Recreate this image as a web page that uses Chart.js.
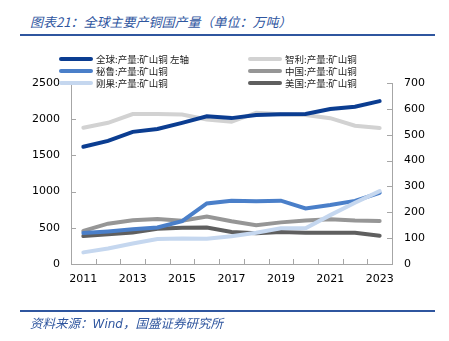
<!DOCTYPE html>
<html>
<head>
<meta charset="utf-8">
<script src="https://cdn.jsdelivr.net/npm/chart.js@4.4.0/dist/chart.umd.min.js"></script>
<style>
  html, body { margin: 0; padding: 0; background: #fff; }
  #wrap { position: relative; width: 449px; height: 341px; overflow: hidden; }
  #c { position: absolute; left: 0; top: 0; }
  .title { position: absolute; left: 30px; top: 12px; font: italic 13px "Noto Sans CJK SC", sans-serif; color: #2F569F; white-space: nowrap; }
  .rule { position: absolute; left: 20px; width: 415px; height: 2px; background: #2F569F; }
  .source { position: absolute; left: 30px; top: 313px; font: italic 12.5px "Noto Sans CJK SC", sans-serif; color: #2F569F; white-space: nowrap; }
  .source .en { font-family: "DejaVu Sans", sans-serif; font-size: 12px; }
  .leg { position: absolute; display: flex; align-items: center; font: 9.5px "Noto Sans CJK SC", sans-serif; color: #222; white-space: nowrap; height: 12px; }
  .leg .sw { width: 34px; height: 4px; border-radius: 2px; margin-right: 3px; }
</style>
</head>
<body>
<div id="wrap">
  <div class="title">图表21：全球主要产铜国产量（单位：万吨）</div>
  <div class="rule" style="top:34px"></div>
  <canvas id="c" width="449" height="341"></canvas>
  <div id="legend"></div>
  <div class="rule" style="top:310px"></div>
  <div class="source">资料来源：<span class="en">Wind</span>，国盛证券研究所</div>
</div>
<script>
// ---- data (万吨) ----
const years = ['2011','2012','2013','2014','2015','2016','2017','2018','2019','2020','2021','2022','2023'];
const globalMine = [1620, 1700, 1825, 1865, 1950, 2040, 2015, 2058, 2070, 2072, 2140, 2172, 2250];
const chileMine  = [527, 546, 580, 580, 578, 559, 550, 585, 579, 576, 564, 535, 526];
const peruMine   = [120, 126, 134, 141, 166, 234, 245, 243, 245, 215, 228, 244, 275];
const drcMine    = [45, 60, 79, 97, 99, 98, 107, 121, 138, 138, 189, 237, 282];
const chinaMine  = [128, 156, 169, 174, 167, 184, 165, 150, 161, 168, 173, 168, 166];
const usaMine    = [108, 115, 122, 136, 140, 141, 124, 119, 124, 121, 121, 121, 109];
const leftTicksMax = 2500, leftStep = 500;
const rightTicksMax = 700, rightStep = 100;

const names = ['全球:产量:矿山铜 左轴','秘鲁:产量:矿山铜','刚果:产量:矿山铜','智利:产量:矿山铜','中国:产量:矿山铜','美国:产量:矿山铜'];
const colors = ['#0B3D91','#4A7FC9','#C5D7EF','#D2D2D2','#969696','#5F5F5F'];
const series = [globalMine, peruMine, drcMine, chileMine, chinaMine, usaMine];
const axes = ['y','y1','y1','y1','y1','y1'];

// ---- legend (two columns, column-major) ----
const legendPos = [[59,53],[59,65],[59,77],[248,53],[248,65],[248,77]];
const legendEl = document.getElementById('legend');
names.forEach((n, i) => {
  const d = document.createElement('div');
  d.className = 'leg';
  d.style.left = legendPos[i][0] + 'px';
  d.style.top = legendPos[i][1] + 'px';
  d.innerHTML = '<span class="sw" style="background:' + colors[i] + '"></span><span>' + n + '</span>';
  legendEl.appendChild(d);
});

const axisColor = '#A6A6A6';
const inwardTicks = {
  id: 'inwardTicks',
  afterDraw(chart) {
    const { ctx, chartArea, scales } = chart;
    const L = 5;
    ctx.save();
    ctx.strokeStyle = axisColor;
    ctx.lineWidth = 1;
    ctx.beginPath();
    const ys = scales.y;
    ys.ticks.forEach((t, i) => {
      const py = Math.round(ys.getPixelForTick(i)) + 0.5;
      ctx.moveTo(chartArea.left, py); ctx.lineTo(chartArea.left + L, py);
    });
    const yr = scales.y1;
    yr.ticks.forEach((t, i) => {
      const py = Math.round(yr.getPixelForTick(i)) + 0.5;
      ctx.moveTo(chartArea.right, py); ctx.lineTo(chartArea.right - L, py);
    });
    const xs = scales.x;
    for (let i = 1; i < xs.ticks.length; i++) {
      const px = Math.round(xs.getPixelForValue(i - 0.5)) + 0.5;
      ctx.moveTo(px, chartArea.bottom); ctx.lineTo(px, chartArea.bottom - L);
    }
    ctx.stroke();
    ctx.restore();
  }
};

const tickFont = { family: 'DejaVu Sans', size: 11 };
const plainNum = v => String(v);

new Chart(document.getElementById('c'), {
  type: 'line',
  data: {
    labels: years,
    datasets: series.map((s, i) => ({
      label: names[i],
      data: s,
      yAxisID: axes[i],
      borderColor: colors[i],
      backgroundColor: colors[i],
      borderWidth: 4,
      pointRadius: 0,
      tension: 0,
      borderCapStyle: 'round',
      order: i === 0 ? 0 : (i === 2 ? 1 : i + 1)
    }))
  },
  options: {
    responsive: false,
    animation: false,
    devicePixelRatio: 1,
    layout: { padding: { top: 83, left: 0, right: 0, bottom: 0 } },
    plugins: { legend: { display: false }, tooltip: { enabled: false }, title: { display: false } },
    scales: {
      x: {
        type: 'category',
        offset: true,
        grid: { display: true, drawOnChartArea: false, drawTicks: false, offset: true },
        border: { display: true, color: axisColor, width: 1 },
        ticks: { color: '#000', font: tickFont, padding: 9, maxRotation: 0, autoSkip: false,
                 callback: function(v, i) { return i % 2 === 0 ? years[i] : ''; } },
        afterFit: s => { s.height = 77; }
      },
      y: {
        position: 'left',
        min: 0, max: leftTicksMax,
        grid: { drawOnChartArea: false, drawTicks: false },
        border: { display: true, color: axisColor, width: 1 },
        ticks: { stepSize: leftStep, color: '#000', font: tickFont, padding: 11, callback: plainNum },
        afterFit: s => { s.width = 71; }
      },
      y1: {
        position: 'right',
        min: 0, max: rightTicksMax,
        grid: { drawOnChartArea: false, drawTicks: false },
        border: { display: true, color: axisColor, width: 1 },
        ticks: { stepSize: rightStep, color: '#000', font: tickFont, padding: 12, callback: plainNum },
        afterFit: s => { s.width = 57; }
      }
    }
  },
  plugins: [inwardTicks]
});
</script>
</body>
</html>
